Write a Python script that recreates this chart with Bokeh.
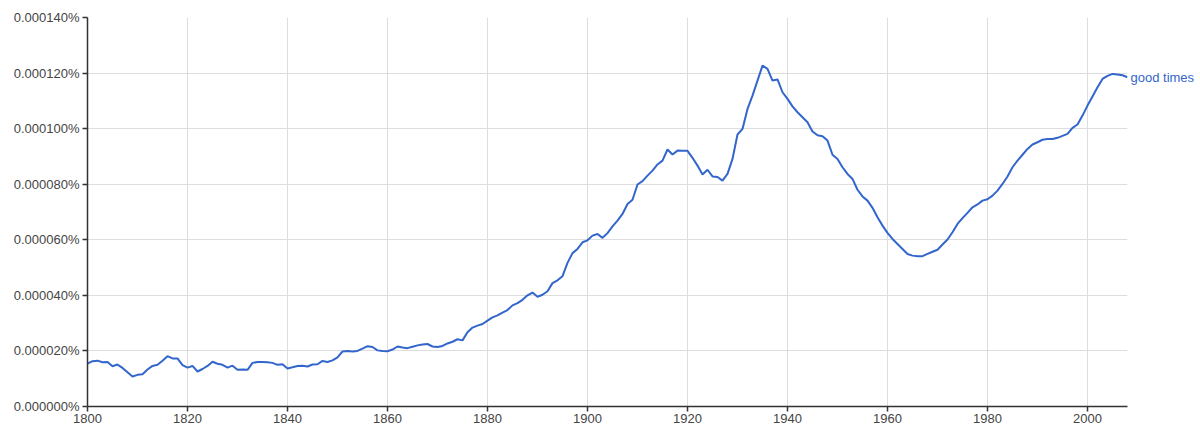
from bokeh.plotting import figure
from bokeh.models import (Range1d, FixedTicker, CustomJSTickFormatter, ColumnDataSource,
                          LinearAxis)
from bokeh.embed import file_html
from bokeh.resources import INLINE

# Frequency of "good times" in units of 0.000001 %
years = list(range(1800, 2009))
freq = [
    15.4, 16.3, 16.5, 15.9, 16.0, 14.5, 15.1, 13.9, 12.3, 10.8,   # 1800-1809
    11.4, 11.6, 13.3, 14.6, 15.0, 16.5, 18.1, 17.3, 17.3, 14.9,   # 1810-1819
    14.0, 14.6, 12.6, 13.5, 14.6, 16.1, 15.4, 15.0, 14.0, 14.7,   # 1820-1829
    13.2, 13.3, 13.2, 15.7, 16.0, 16.0, 15.9, 15.7, 15.0, 15.2,   # 1830-1839
    13.7, 14.1, 14.6, 14.7, 14.4, 15.1, 15.2, 16.4, 16.0, 16.6,   # 1840-1849
    17.7, 19.8, 20.0, 19.8, 20.0, 20.8, 21.7, 21.4, 20.2, 20.0,   # 1850-1859
    19.9, 20.5, 21.6, 21.2, 21.0, 21.5, 22.0, 22.3, 22.5, 21.6,   # 1860-1869
    21.4, 21.8, 22.7, 23.3, 24.2, 23.8, 26.7, 28.4, 29.1, 29.7,   # 1870-1879
    30.9, 32.1, 32.8, 33.8, 34.7, 36.4, 37.2, 38.4, 40.0, 41.0,   # 1880-1889
    39.5, 40.2, 41.5, 44.4, 45.4, 46.9, 51.7, 55.2, 56.7, 59.1,   # 1890-1899
    59.8, 61.5, 62.1, 60.7, 62.4, 64.8, 66.9, 69.3, 72.9, 74.4,   # 1900-1909
    79.9, 81.1, 83.1, 84.9, 87.1, 88.5, 92.5, 90.7, 92.1, 92.0,   # 1910-1919
    92.0, 89.5, 86.7, 83.5, 85.2, 82.8, 82.6, 81.3, 83.7, 89.1,   # 1920-1929
    97.9, 99.9, 107.1, 111.9, 117.3, 122.7, 121.5, 117.3, 117.7, 113.1,  # 1930-1939
    110.7, 108.0, 105.9, 104.1, 102.3, 99.0, 97.6, 97.3, 95.7, 90.6,   # 1940-1949
    89.1, 86.1, 83.7, 81.9, 78.0, 75.6, 74.1, 71.5, 68.1, 65.1,   # 1950-1959
    62.5, 60.3, 58.5, 56.7, 54.9, 54.3, 54.1, 54.1, 54.9, 55.7,   # 1960-1969
    56.4, 58.3, 60.1, 62.7, 65.7, 67.8, 69.7, 71.7, 72.7, 74.1,   # 1970-1979
    74.6, 75.9, 77.7, 80.1, 82.8, 86.1, 88.5, 90.6, 92.7, 94.3,   # 1980-1989
    95.1, 96.0, 96.3, 96.3, 96.7, 97.4, 98.1, 100.3, 101.5, 104.7,  # 1990-1999
    108.3, 111.6, 114.9, 117.9, 119.0, 119.7, 119.5, 119.2, 118.5,  # 2000-2008
]
series_name = "good times"
x_ticks = [1800, 1820, 1840, 1860, 1880, 1900, 1920, 1940, 1960, 1980, 2000]
y_ticks = [0, 20, 40, 60, 80, 100, 120, 140]

FONT = "Liberation Sans"
BLUE = "#3366cc"

p = figure(width=1200, height=431, output_backend="svg", toolbar_location=None,
           x_range=Range1d(1800, 2008), y_range=Range1d(0, 140),
           min_border_left=87, min_border_right=73, min_border_top=17, min_border_bottom=25)
p.outline_line_color = None
p.background_fill_color = "white"

src = ColumnDataSource(data=dict(x=years, y=freq))
p.line("x", "y", source=src, line_color=BLUE, line_width=2)

for ax in (p.xaxis[0], p.yaxis[0]):
    ax.axis_line_color = "#333333"
    ax.axis_line_width = 1.5
    ax.major_tick_line_color = "#333333"
    ax.major_tick_line_width = 1.5
    ax.major_tick_in = 0
    ax.major_tick_out = 5
    ax.minor_tick_line_color = None
    ax.major_label_text_font = FONT
    ax.major_label_text_font_size = "13px"
    ax.major_label_text_color = "#444444"

p.xaxis.ticker = FixedTicker(ticks=x_ticks)
p.yaxis.ticker = FixedTicker(ticks=y_ticks)
p.xaxis.major_label_standoff = 2
p.yaxis.major_label_standoff = 3
p.yaxis.formatter = CustomJSTickFormatter(code="return (tick*1e-6).toFixed(6) + '%';")

# series label at the end of the line, drawn as a right-side axis label
name_axis = LinearAxis(ticker=FixedTicker(ticks=[freq[-1]]),
                       formatter=CustomJSTickFormatter(args=dict(name=series_name),
                                                       code="return name;"),
                       axis_line_color=None, major_tick_line_color=None,
                       minor_tick_line_color=None, major_tick_in=0, major_tick_out=0,
                       major_label_standoff=3, major_label_text_font=FONT,
                       major_label_text_font_size="13px", major_label_text_color=BLUE)
p.add_layout(name_axis, "right")

p.xgrid.grid_line_color = "#dddddd"
p.ygrid.grid_line_color = "#dddddd"
p.xgrid.grid_line_width = 1
p.ygrid.grid_line_width = 1

open("out.html", "w").write(file_html(p, INLINE))
